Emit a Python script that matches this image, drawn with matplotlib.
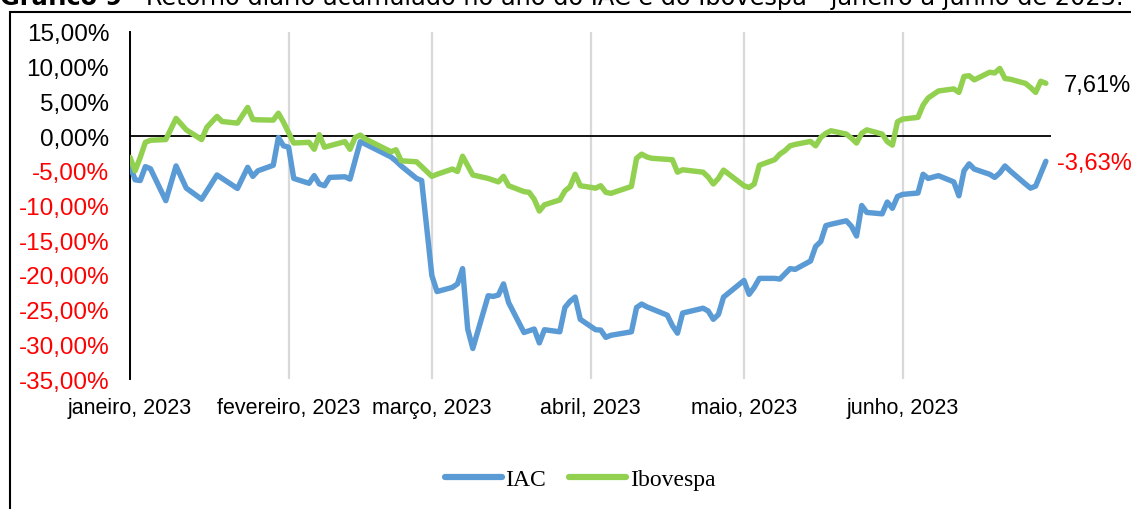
import matplotlib
matplotlib.use("Agg")
import matplotlib.pyplot as plt
from matplotlib.transforms import offset_copy
import pandas as pd

# retorno acumulado (%) - IAC
iac_dates = ["2023-01-02", "2023-01-03", "2023-01-04", "2023-01-05", "2023-01-06",
             "2023-01-09", "2023-01-11", "2023-01-13", "2023-01-16", "2023-01-19",
             "2023-01-23", "2023-01-25", "2023-01-26", "2023-01-27", "2023-01-30",
             "2023-01-31", "2023-02-01", "2023-02-02", "2023-02-03", "2023-02-06",
             "2023-02-07", "2023-02-08", "2023-02-09", "2023-02-10", "2023-02-13",
             "2023-02-14", "2023-02-16", "2023-02-17", "2023-02-22", "2023-02-23",
             "2023-02-24", "2023-02-27", "2023-02-28", "2023-03-02", "2023-03-03",
             "2023-03-06", "2023-03-07", "2023-03-08", "2023-03-09", "2023-03-10",
             "2023-03-13", "2023-03-14", "2023-03-15", "2023-03-16", "2023-03-17",
             "2023-03-20", "2023-03-22", "2023-03-23", "2023-03-24", "2023-03-27",
             "2023-03-28", "2023-03-29", "2023-03-30", "2023-03-31", "2023-04-03",
             "2023-04-04", "2023-04-05", "2023-04-06", "2023-04-10", "2023-04-11",
             "2023-04-12", "2023-04-13", "2023-04-14", "2023-04-17", "2023-04-18",
             "2023-04-19", "2023-04-20", "2023-04-24", "2023-04-25", "2023-04-26",
             "2023-04-27", "2023-04-28", "2023-05-02", "2023-05-03", "2023-05-04",
             "2023-05-05", "2023-05-08", "2023-05-09", "2023-05-11", "2023-05-12",
             "2023-05-15", "2023-05-16", "2023-05-17", "2023-05-18", "2023-05-19",
             "2023-05-22", "2023-05-23", "2023-05-24", "2023-05-25", "2023-05-26",
             "2023-05-29", "2023-05-30", "2023-05-31", "2023-06-01", "2023-06-02",
             "2023-06-05", "2023-06-06", "2023-06-07", "2023-06-09", "2023-06-12",
             "2023-06-13", "2023-06-14", "2023-06-15", "2023-06-16", "2023-06-19",
             "2023-06-20", "2023-06-21", "2023-06-22", "2023-06-23", "2023-06-26",
             "2023-06-27", "2023-06-28", "2023-06-29", "2023-06-30"]
iac_vals = [-4.2, -6.3, -6.4, -4.4, -4.7,
            -9.3, -4.3, -7.5, -9.1, -5.6,
            -7.55, -4.5, -5.8, -5.0, -4.2,
            -0.2, -1.4, -1.6, -6.1, -6.8,
            -5.7, -6.9, -7.15, -5.95, -5.86,
            -6.2, -0.8, -1.15, -3.0, -3.6,
            -4.3, -6.1, -6.4, -20.1, -22.4,
            -21.8, -21.3, -19.1, -27.8, -30.6,
            -23.0, -23.1, -22.9, -21.3, -24.0,
            -28.3, -27.8, -29.8, -27.9, -28.2,
            -24.7, -23.8, -23.2, -26.4, -27.9,
            -27.95, -29.0, -28.7, -28.2, -24.7,
            -24.2, -24.6, -24.9, -25.8, -27.3,
            -28.4, -25.5, -24.8, -25.2, -26.4,
            -25.7, -23.2, -20.8, -22.8, -21.8,
            -20.5, -20.5, -20.6, -19.1, -19.2,
            -18.0, -15.9, -15.2, -12.9, -12.7,
            -12.2, -13.0, -14.4, -10.0, -11.0,
            -11.2, -9.5, -10.4, -8.7, -8.4,
            -8.2, -5.5, -6.1, -5.7, -6.6,
            -8.6, -5.0, -4.0, -4.75, -5.5,
            -5.95, -5.3, -4.3, -5.0, -6.9,
            -7.5, -7.2, -5.4, -3.63]

# retorno acumulado (%) - Ibovespa
ibov_dates = ["2023-01-02", "2023-01-03", "2023-01-04", "2023-01-05", "2023-01-06",
              "2023-01-09", "2023-01-11", "2023-01-13", "2023-01-16", "2023-01-17",
              "2023-01-19", "2023-01-20", "2023-01-23", "2023-01-25", "2023-01-26",
              "2023-01-27", "2023-01-30", "2023-01-31", "2023-02-01", "2023-02-02",
              "2023-02-03", "2023-02-06", "2023-02-07", "2023-02-08", "2023-02-09",
              "2023-02-10", "2023-02-13", "2023-02-14", "2023-02-15", "2023-02-16",
              "2023-02-17", "2023-02-22", "2023-02-23", "2023-02-24", "2023-02-27",
              "2023-03-02", "2023-03-03", "2023-03-06", "2023-03-07", "2023-03-08",
              "2023-03-10", "2023-03-13", "2023-03-15", "2023-03-16", "2023-03-17",
              "2023-03-20", "2023-03-21", "2023-03-22", "2023-03-23", "2023-03-24",
              "2023-03-27", "2023-03-28", "2023-03-29", "2023-03-30", "2023-03-31",
              "2023-04-03", "2023-04-04", "2023-04-05", "2023-04-06", "2023-04-10",
              "2023-04-11", "2023-04-12", "2023-04-13", "2023-04-14", "2023-04-17",
              "2023-04-18", "2023-04-19", "2023-04-20", "2023-04-24", "2023-04-25",
              "2023-04-26", "2023-04-27", "2023-04-28", "2023-05-02", "2023-05-03",
              "2023-05-04", "2023-05-05", "2023-05-08", "2023-05-09", "2023-05-10",
              "2023-05-11", "2023-05-12", "2023-05-15", "2023-05-16", "2023-05-17",
              "2023-05-18", "2023-05-19", "2023-05-22", "2023-05-23", "2023-05-24",
              "2023-05-25", "2023-05-26", "2023-05-29", "2023-05-30", "2023-05-31",
              "2023-06-01", "2023-06-02", "2023-06-05", "2023-06-06", "2023-06-07",
              "2023-06-09", "2023-06-12", "2023-06-13", "2023-06-14", "2023-06-15",
              "2023-06-16", "2023-06-19", "2023-06-20", "2023-06-21", "2023-06-22",
              "2023-06-23", "2023-06-26", "2023-06-27", "2023-06-28", "2023-06-29",
              "2023-06-30"]
ibov_vals = [-3.07, -5.0, -3.07, -0.9, -0.6,
             -0.5, 2.55, 0.9, -0.5, 1.25,
             2.84, 2.1, 1.87, 4.13, 2.4,
             2.35, 2.3, 3.3, 2.0, 0.5,
             -1.0, -0.9, -1.9, 0.2, -1.6,
             -1.4, -0.8, -1.9, -0.2, 0.15,
             -0.4, -2.25, -1.97, -3.56, -3.7,
             -5.8, -5.5, -4.75, -5.1, -2.9,
             -5.6, -6.1, -6.6, -5.8, -7.15,
             -8.0, -8.1, -9.1, -10.8, -9.9,
             -9.2, -7.9, -7.3, -5.5, -7.15,
             -7.5, -7.15, -8.1, -8.25, -7.25,
             -3.2, -2.6, -3.0, -3.2, -3.35,
             -3.4, -5.2, -4.85, -5.2, -5.9,
             -6.9, -6.1, -4.9, -7.15, -7.4,
             -6.9, -4.2, -3.4, -2.6, -2.1,
             -1.4, -1.2, -0.77, -1.4, -0.2,
             0.4, 0.77, 0.29, -0.3, -1.0,
             0.4, 0.9, 0.29, -0.8, -1.3,
             2.06, 2.45, 2.7, 4.47, 5.5,
             6.5, 6.8, 6.3, 8.6, 8.7,
             8.1, 9.2, 9.1, 9.75, 8.3,
             8.2, 7.6, 7.0, 6.3, 7.9,
             7.61]

month_ticks = ["2023-01-02", "2023-02-02", "2023-03-02", "2023-04-02", "2023-05-02", "2023-06-02"]
month_labels = ["janeiro, 2023", "fevereiro, 2023", "março, 2023", "abril, 2023", "maio, 2023", "junho, 2023"]
y_ticks = [15, 10, 5, 0, -5, -10, -15, -20, -25, -30, -35]

blue = "#5B9BD5"
green = "#92D050"

plt.rcParams["font.family"] = ["Liberation Sans", "DejaVu Sans"]

fig = plt.figure(figsize=(11.31, 5.10), dpi=100)

# moldura num eixo de fundo em pixels
bg = fig.add_axes([0, 0, 1, 1], zorder=-5)
bg.set_xlim(0, 1131)
bg.set_ylim(510, 0)
bg.axis("off")
bg.plot([9.5, 9.5, 1140], [520, 12.5, 12.5], color="black", lw=1.5, solid_joinstyle="miter", clip_on=False)

ax = fig.add_axes([130 / 1131, 1 - 380 / 510, 921 / 1131, 347 / 510])
ax.patch.set_alpha(0)

x_iac = pd.to_datetime(iac_dates)
x_ibov = pd.to_datetime(ibov_dates)
ax.plot(x_iac, iac_vals, color=blue, lw=3.9, solid_joinstyle="round", solid_capstyle="round", label="IAC", zorder=3)
ax.plot(x_ibov, ibov_vals, color=green, lw=3.9, solid_joinstyle="round", solid_capstyle="round", label="Ibovespa", zorder=3)
ax.axhline(0, color="black", lw=1.3, zorder=2)

ax.set_xlim(pd.Timestamp("2023-01-02"), pd.Timestamp("2023-07-01"))
ax.set_ylim(-35, 15)

ticks = pd.to_datetime(month_ticks)
ax.set_xticks(ticks)
ax.set_xticklabels(month_labels, fontsize=15.5)
ax.grid(axis="x", color="#D9D9D9", lw=1.6, zorder=1)
ax.tick_params(axis="x", length=0, pad=13)

ax.set_yticks(y_ticks)
ax.set_yticklabels([("%.2f%%" % v).replace(".", ",") for v in y_ticks], fontsize=17.5)
ax.tick_params(axis="y", length=0, pad=15)
for lbl, v in zip(ax.get_yticklabels(), y_ticks):
    lbl.set_color("red" if v < 0 else "black")

for s in ["top", "right", "bottom"]:
    ax.spines[s].set_visible(False)
ax.spines["left"].set_linewidth(1.4)
ax.spines["left"].set_color("black")

# rótulos finais
ax.annotate(("%.2f%%" % ibov_vals[-1]).replace(".", ","), xy=(x_ibov[-1], ibov_vals[-1]),
            xytext=(13, -1), textcoords="offset points", va="center", ha="left",
            fontsize=17, color="black", annotation_clip=False)
ax.annotate(("%.2f%%" % iac_vals[-1]).replace(".", ","), xy=(x_iac[-1], iac_vals[-1]),
            xytext=(8, -1), textcoords="offset points", va="center", ha="left",
            fontsize=17, color="red", annotation_clip=False)

leg = fig.legend(loc="center", bbox_to_anchor=(580 / 1131, 1 - 480 / 510), ncol=2, frameon=False,
                 prop={"family": "Liberation Serif", "size": 17}, handlelength=2.4,
                 handletextpad=0.15, columnspacing=1.0)
for h in leg.get_lines():
    h.set_linewidth(4.5)
    h.set_solid_capstyle("round")

# título (cortado no topo)
t1 = fig.text(0.0, 1 - 5 / 510, "Gráfico 9", fontsize=17.3, fontweight="bold", family="DejaVu Sans",
              va="baseline", ha="left")
fig.canvas.draw()
w = t1.get_window_extent().width
tr = offset_copy(fig.transFigure, fig=fig, x=w * 72 / fig.dpi, y=0, units="points")
fig.text(0.0, 1 - 5 / 510, " - Retorno diário acumulado no ano do IAC e do Ibovespa - janeiro a junho de 2023.",
         fontsize=17.3, family="DejaVu Sans", va="baseline", ha="left", transform=tr)

fig.savefig("out.png", dpi=100)
